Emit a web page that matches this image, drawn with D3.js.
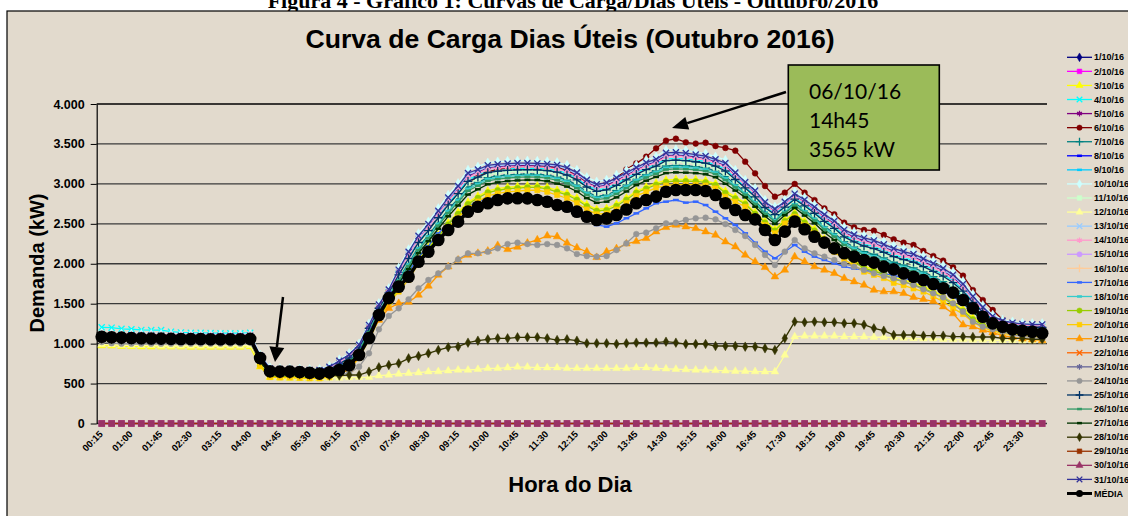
<!DOCTYPE html>
<html>
<head>
<meta charset="utf-8">
<script src="https://cdn.jsdelivr.net/npm/d3@7"></script>
<style>
  body { margin: 0; background: #fff; }
  svg { display: block; font-family: "Liberation Sans", Arial, sans-serif; }
</style>
</head>
<body>
<div id="chart"></div>
<script>
// Horários (categorias do eixo X), 96 intervalos de 15 minutos
const horas = ["00:15","00:30","00:45","01:00","01:15","01:30","01:45","02:00","02:15","02:30","02:45","03:00",
  "03:15","03:30","03:45","04:00","04:15","04:30","04:45","05:00","05:15","05:30","05:45","06:00",
  "06:15","06:30","06:45","07:00","07:15","07:30","07:45","08:00","08:15","08:30","08:45","09:00",
  "09:15","09:30","09:45","10:00","10:15","10:30","10:45","11:00","11:15","11:30","11:45","12:00",
  "12:15","12:30","12:45","13:00","13:15","13:30","13:45","14:00","14:15","14:30","14:45","15:00",
  "15:15","15:30","15:45","16:00","16:15","16:30","16:45","17:00","17:15","17:30","17:45","18:00",
  "18:15","18:30","18:45","19:00","19:15","19:30","19:45","20:00","20:15","20:30","20:45","21:00",
  "21:15","21:30","21:45","22:00","22:15","22:30","22:45","23:00","23:15","23:30","23:45","24:00"];

const rotulosX = ["00:15","01:00","01:45","02:30","03:15","04:00","04:45","05:30","06:15","07:00","07:45",
  "08:30","09:15","10:00","10:45","11:30","12:15","13:00","13:45","14:30","15:15","16:00","16:45","17:30",
  "18:15","19:00","19:45","20:30","21:15","22:00","22:45","23:30"];

const yTicks = [0, 500, 1000, 1500, 2000, 2500, 3000, 3500, 4000];

const legendaDias = ["1/10/16","2/10/16","3/10/16","4/10/16","5/10/16","6/10/16","7/10/16","8/10/16",
  "9/10/16","10/10/16","11/10/16","12/10/16","13/10/16","14/10/16","15/10/16","16/10/16","17/10/16",
  "18/10/16","19/10/16","20/10/16","21/10/16","22/10/16","23/10/16","24/10/16","25/10/16","26/10/16",
  "27/10/16","28/10/16","29/10/16","30/10/16","31/10/16","MÉDIA"];

// Demanda (kW) por dia
const zeros = [0,0,0,0,0,0,0,0,0,0,0,0, 0,0,0,0,0,0,0,0,0,0,0,0, 0,0,0,0,0,0,0,0,0,0,0,0, 0,0,0,0,0,0,0,0,0,0,0,0,
  0,0,0,0,0,0,0,0,0,0,0,0, 0,0,0,0,0,0,0,0,0,0,0,0, 0,0,0,0,0,0,0,0,0,0,0,0, 0,0,0,0,0,0,0,0,0,0,0,0];

const d03 = [975,972,968,965,962,960,960,960,960,958,958,958,958,958,958,962,
  710,580,572,570,568,565,565,575,620,700, 847,1080,1331,1529,1695,1857,2057,2207,2359,2512,
  2644,2771,2845,2912,2940,2958,2967,2976,2975,2957, 2922,2882,2822,2740,2681,2693,2745,2822,2908,2960,
  3009,3047,3056,3055,3052,3040,3003,2909,2837,2764, 2643,2532,2431,2550,2637,2533,2434,2310,2213,2112,
  2043,1969,1931,1889,1831,1799,1761,1718,1658,1593, 1511,1432,1323,1242,1190,1156,1135,1124,1115,1106];

const d04 = [1204,1200,1185,1180,1172,1170,1170,1150,1140,1135,1135,1132,1130,1130,1130,1135,
  825,670,661,660,656,651,650,685,755,830, 955,1200,1454,1645,1875,2085,2285,2433,2596,2758,
  2900,3056,3106,3161,3179,3189,3195,3198,3194,3185, 3168,3132,3071,2982,2926,2945,3003,3071,3140,3199,
  3243,3313,3320,3313,3298,3280,3241,3184,3075,2965, 2856,2720,2631,2725,2824,2743,2650,2550,2465,2358,
  2295,2245,2213,2165,2113,2075,2043,1988,1928,1866, 1786,1678,1533,1410,1310,1258,1234,1220,1214,1211];

const d05 = [1100,1098,1096,1094,1092,1091,1090,1089,1088,1087,1086,1086,1086,1086,1086,1090,
  840,682,673,672,668,663,662,699,773,850, 973,1220,1474,1664,1905,2123,2323,2470,2635,2799,
  2943,3103,3150,3203,3218,3227,3233,3235,3230,3223, 3209,3174,3112,3022,2967,2987,3046,3112,3178,3239,
  3282,3357,3364,3356,3339,3320,3281,3230,3114,2999, 2891,2751,2664,2754,2855,2778,2686,2590,2507,2399,
  2337,2291,2260,2211,2160,2121,2090,2033,1973,1912, 1831,1719,1568,1438,1330,1275,1250,1236,1230,1228];

const d06 = [1110,1105,1100,1100,1095,1095,1090,1090,1090,1085,1085,1085,1080,1080,1080,1080,
  830,680,670,670,665,660,660,700,795,857, 980,1200,1450,1660,1850,2050,2250,2420,2580,2730,
  2870,3000,3090,3150,3180,3200,3215,3220,3215,3210, 3200,3174,3082,3028,2986,3007,3070,3182,3257,3340,
  3445,3541,3565,3520,3505,3515,3474,3450,3416,3278, 3132,2973,2840,2890,2999,2890,2798,2694,2619,2514,
  2456,2423,2414,2360,2306,2264,2235,2160,2097,2039, 1955,1850,1671,1546,1421,1300,1260,1240,1220,1200];

const d07 = [1105,1102,1100,1098,1096,1095,1094,1093,1092,1091,1090,1090,1090,1090,1090,1094,
  800,646,638,640,633,628,626,657,719,790, 919,1160,1413,1606,1815,2009,2209,2357,2517,2676,
  2815,2961,3019,3078,3099,3112,3119,3124,3121,3109, 3086,3049,2988,2901,2844,2861,2917,2988,3062,3119,
  3165,3224,3232,3227,3216,3200,3162,3092,2995,2898, 2785,2657,2564,2667,2762,2673,2578,2470,2381,2276,
  2211,2153,2119,2073,2019,1983,1949,1898,1838,1775, 1694,1596,1463,1354,1270,1224,1201,1188,1181,1176];

const d10 = [1130,1128,1125,1123,1121,1120,1119,1118,1117,1116,1115,1115,1115,1115,1115,1120,
  860,700,690,688,685,680,680,720,800,880, 1000,1250,1505,1693,1950,2180,2380,2527,2694,2861,
  3007,3174,3215,3265,3278,3285,3290,3290,3285,3280, 3270,3236,3174,3082,3028,3050,3111,3174,3236,3299,
  3340,3424,3430,3420,3400,3380,3340,3299,3174,3049, 2944,2798,2714,2798,2902,2830,2740,2650,2570,2460,
  2400,2360,2330,2280,2230,2190,2160,2100,2040,1980, 1900,1780,1620,1480,1360,1300,1275,1260,1255,1254];

const d11 = [1115,1112,1110,1108,1106,1105,1104,1103,1102,1101,1100,1100,1100,1100,1100,1105,
  810,658,650,648,645,640,642,671,737,810, 937,1180,1433,1625,1845,2047,2247,2395,2556,2717,
  2858,3008,3063,3120,3139,3150,3157,3161,3157,3147, 3127,3090,3029,2941,2885,2903,2960,3029,3101,3159,
  3204,3269,3276,3270,3257,3240,3201,3138,3035,2932, 2820,2688,2597,2696,2793,2708,2614,2510,2423,2317,
  2253,2199,2166,2119,2066,2029,1996,1943,1883,1821, 1740,1637,1498,1382,1290,1241,1217,1204,1197,1193];

const d12 = [990,985,980,975,975,975,970,970,970,970,970,970,970,970,970,975,
  760,600,590,585,580,575,575,570,570,575, 578,578,599,607,620,628,636,649,650,661,
  670,670,678,690,690,699,707,707,699,699, 699,690,690,690,690,690,690,690,699,699,
  691,685,680,675,670,670,665,660,655,655, 650,649,649,857,1087,1095,1095,1095,1095,1087,
  1087,1087,1080,1080,1075,1070,1065,1060,1060,1055, 1050,1050,1045,1045,1040,1040,1040,1035,1035,1035];

const d13 = [1090,1088,1086,1084,1082,1081,1080,1079,1078,1077,1076,1076,1076,1076,1076,1080,
  845,686,676,678,671,666,668,703,778,856, 978,1226,1480,1670,1914,2134,2334,2482,2647,2812,
  2956,3117,3163,3215,3230,3239,3244,3246,3241,3234, 3221,3186,3124,3034,2979,3000,3059,3124,3190,3251,
  3293,3371,3377,3368,3351,3332,3292,3244,3126,3009, 2902,2760,2674,2763,2865,2788,2697,2602,2520,2411,
  2350,2305,2274,2225,2174,2135,2104,2046,1986,1925, 1845,1731,1578,1446,1336,1280,1255,1241,1235,1233];

const d14 = [1125,1122,1120,1118,1116,1115,1114,1113,1112,1111,1110,1110,1110,1110,1110,1115,
  830,676,667,668,662,657,656,692,764,840, 964,1210,1464,1654,1890,2104,2304,2452,2615,2779,
  2922,3079,3128,3182,3198,3208,3214,3216,3212,3204, 3188,3153,3091,3002,2946,2966,3025,3091,3159,3219,
  3262,3335,3342,3334,3318,3300,3261,3207,3095,2982, 2873,2735,2647,2740,2840,2760,2668,2570,2486,2378,
  2316,2268,2236,2188,2136,2098,2066,2010,1950,1889, 1808,1698,1550,1424,1320,1266,1242,1228,1222,1219];

const d17 = [1070,1065,1060,1060,1060,1055,1055,1055,1055,1050,1050,1050,1050,1050,1050,1055,
  810,650,645,640,640,630,620,640,680,760, 900,1130,1380,1600,1760,1900,2080,2220,2380,2500,
  2620,2720,2780,2820,2820,2820,2825,2820,2800,2760, 2694,2670,2652,2580,2485,2464,2506,2570,2631,2694,
  2757,2777,2798,2765,2777,2735,2652,2569,2485,2381, 2264,2151,2068,2151,2235,2151,2089,2047,2005,1964,
  1940,1920,1900,1880,1850,1820,1790,1750,1700,1650, 1590,1500,1400,1300,1240,1200,1170,1150,1140,1120];

const d18 = [1095,1093,1090,1088,1086,1085,1084,1083,1082,1081,1080,1080,1080,1080,1080,1085,
  790,640,632,633,628,622,623,650,710,780, 910,1150,1402,1597,1800,1990,2190,2339,2497,2656,
  2794,2937,2998,3058,3079,3093,3100,3105,3103,3090, 3065,3028,2967,2881,2824,2840,2896,2967,3043,3100,
  3145,3202,3210,3205,3195,3180,3142,3070,2976,2882, 2767,2642,2548,2652,2746,2655,2560,2450,2360,2255,
  2190,2130,2095,2050,1995,1960,1925,1875,1815,1753, 1671,1575,1445,1340,1260,1215,1193,1180,1173,1167];

const d19 = [1040,1038,1036,1035,1035,1034,1033,1032,1032,1031,1030,1030,1030,1030,1030,1035,
  730,592,586,587,582,576,578,594,638,700, 838,1070,1320,1519,1680,1838,2038,2188,2339,2491,
  2623,2747,2824,2892,2920,2939,2948,2957,2957,2938, 2901,2862,2801,2720,2661,2672,2723,2801,2889,2940,
  2989,3024,3034,3033,3031,3020,2984,2886,2817,2748, 2625,2516,2414,2535,2621,2515,2416,2290,2192,2091,
  2022,1946,1907,1866,1807,1776,1737,1695,1635,1571, 1488,1411,1305,1228,1180,1147,1127,1116,1107,1097];

const d20 = [1060,1058,1055,1052,1050,1050,1048,1048,1046,1046,1045,1045,1045,1045,1045,1050,
  720,580,575,575,570,565,565,580,620,680, 820,1050,1300,1500,1650,1800,2000,2150,2300,2450,
  2580,2700,2780,2850,2880,2900,2910,2920,2920,2900, 2860,2820,2760,2680,2620,2630,2680,2760,2850,2900,
  2950,2980,2990,2990,2990,2980,2944,2840,2777,2714, 2590,2485,2381,2506,2590,2480,2380,2250,2150,2050,
  1980,1900,1860,1820,1760,1730,1690,1650,1590,1525, 1442,1370,1270,1200,1160,1130,1110,1100,1090,1080];

const d21 = [1065,1062,1060,1058,1056,1055,1054,1053,1052,1051,1050,1050,1050,1050,1050,1055,
  800,625,620,620,615,612,610,620,640,680, 836,1087,1296,1442,1505,1520,1609,1722,1859,1963,
  2047,2110,2131,2160,2230,2180,2210,2260,2300,2350, 2340,2260,2200,2150,2080,2150,2190,2250,2280,2318,
  2402,2456,2485,2464,2443,2402,2360,2276,2214,2110, 2026,1955,1838,1922,2089,2026,1964,1922,1880,1818,
  1776,1734,1671,1651,1651,1630,1580,1555,1530,1463, 1376,1237,1212,1170,1137,1100,1080,1060,1050,1040];

const d24 = [1020,1005,1000,1000,1000,1000,1000,1000,1000,1000,1000,1000,1000,1000,1000,1010,
  780,620,615,615,610,605,600,600,610,630, 711,879,1179,1346,1442,1555,1693,1797,1880,1963,
  2056,2131,2131,2151,2193,2247,2264,2247,2235,2247, 2235,2193,2122,2097,2089,2097,2172,2256,2372,2389,
  2443,2506,2514,2548,2569,2577,2556,2497,2423,2347, 2235,2110,1984,2151,2297,2193,2131,2089,2047,1997,
  1964,1922,1880,1847,1818,1776,1734,1680,1630,1580, 1505,1400,1275,1212,1179,1150,1110,1090,1075,1060];

const d25 = [1080,1078,1076,1074,1072,1071,1070,1069,1068,1067,1066,1066,1066,1066,1066,1070,
  820,664,655,656,650,645,646,678,746,820, 946,1190,1443,1635,1860,2066,2266,2414,2576,2738,
  2879,3032,3085,3141,3159,3170,3176,3179,3176,3166, 3147,3111,3050,2961,2906,2924,2982,3050,3120,3179,
  3223,3291,3298,3291,3277,3260,3221,3161,3055,2949, 2838,2704,2614,2710,2808,2725,2632,2530,2444,2337,
  2274,2222,2189,2142,2089,2052,2019,1965,1905,1844, 1763,1657,1515,1396,1300,1249,1226,1212,1206,1202];

const d26 = [1075,1073,1071,1070,1068,1067,1066,1065,1064,1063,1063,1062,1062,1062,1062,1066,
  780,634,627,626,622,617,618,643,701,770, 901,1140,1392,1587,1785,1971,2171,2320,2477,2635,
  2772,2913,2976,3037,3059,3073,3081,3087,3084,3071, 3045,3007,2946,2861,2804,2819,2874,2946,3024,3080,
  3126,3180,3188,3184,3175,3160,3122,3047,2956,2865, 2749,2626,2531,2637,2730,2638,2542,2430,2339,2235,
  2169,2107,2072,2027,1972,1937,1902,1853,1793,1730, 1648,1555,1428,1326,1250,1207,1184,1172,1164,1158];

const d27 = [1085,1082,1080,1078,1076,1075,1074,1073,1072,1071,1070,1070,1070,1070,1070,1075,
  770,622,615,614,610,605,604,629,683,750, 883,1120,1372,1568,1755,1933,2133,2282,2438,2594,
  2729,2866,2932,2995,3019,3035,3043,3050,3048,3033, 3004,2966,2905,2821,2763,2777,2831,2905,2985,3040,
  3087,3135,3144,3141,3134,3120,3083,3001,2916,2831, 2714,2595,2498,2608,2699,2603,2506,2390,2297,2194,
  2127,2061,2025,1981,1925,1891,1855,1808,1748,1684, 1602,1514,1393,1298,1230,1190,1168,1156,1148,1141];

const d28 = [1060,1055,1050,1050,1050,1045,1045,1045,1045,1040,1040,1040,1040,1040,1040,1045,
  790,630,625,620,615,610,605,600,600,607, 607,649,704,732,753,816,845,879,920,954,
  962,1012,1037,1054,1066,1066,1079,1079,1079,1066, 1045,1054,1037,1004,1004,1004,996,1004,1012,1012,
  1012,1024,1012,995,995,995,970,970,970,962, 962,941,920,1066,1275,1267,1275,1267,1267,1254,
  1254,1237,1191,1162,1108,1108,1108,1100,1100,1100, 1087,1087,1083,1083,1083,1066,1066,1066,1054,1054];

const d31 = [1110,1108,1106,1104,1102,1101,1100,1099,1098,1097,1096,1096,1096,1096,1096,1100,
  850,690,681,682,676,671,670,709,786,864, 986,1234,1489,1678,1926,2150,2350,2497,2662,2828,
  2973,3136,3180,3232,3246,3254,3260,3260,3256,3250, 3237,3203,3141,3050,2995,3016,3077,3141,3205,3267,
  3309,3388,3395,3386,3367,3348,3308,3262,3142,3022, 2916,2773,2687,2775,2877,2802,2711,2618,2536,2427,
  2366,2323,2292,2243,2192,2153,2122,2064,2004,1944, 1863,1747,1592,1458,1344,1286,1262,1247,1242,1240];

const media = [1087,1080,1075,1070,1068,1065,1063,1060,1058,1058,1058,1055,1055,1055,1055,1060,
  820,655,650,650,645,635,625,640,670,730, 857,1070,1358,1570,1713,1838,2026,2151,2297,2422,
  2527,2652,2714,2757,2798,2819,2820,2819,2798,2777, 2735,2714,2652,2589,2547,2568,2610,2679,2757,2798,
  2840,2902,2923,2923,2923,2911,2861,2757,2673,2610, 2556,2423,2297,2402,2527,2431,2339,2264,2193,2131,
  2089,2047,2014,1964,1930,1880,1838,1797,1747,1693, 1638,1546,1442,1337,1254,1212,1179,1162,1149,1129];

// dias sem medição (fins de semana) ficam só na legenda
const dadosPorDia = {
  "2/10/16": zeros, "3/10/16": d03, "4/10/16": d04, "5/10/16": d05, "6/10/16": d06, "7/10/16": d07,
  "10/10/16": d10, "11/10/16": d11, "12/10/16": d12, "13/10/16": d13, "14/10/16": d14,
  "17/10/16": d17, "18/10/16": d18, "19/10/16": d19, "20/10/16": d20, "21/10/16": d21,
  "24/10/16": d24, "25/10/16": d25, "26/10/16": d26, "27/10/16": d27, "28/10/16": d28,
  "29/10/16": zeros, "31/10/16": d31, "MÉDIA": media
};

// cor e marcador de cada série (paleta padrão do Excel)
const estilos = {
  "1/10/16": ["#000080", "diamond"], "2/10/16": ["#ff00ff", "square"], "3/10/16": ["#ffff00", "triangle"],
  "4/10/16": ["#00ffff", "x"], "5/10/16": ["#800080", "star"], "6/10/16": ["#800000", "circle"],
  "7/10/16": ["#008080", "plus"], "8/10/16": ["#0000ff", "dash"], "9/10/16": ["#00ccff", "dash"],
  "10/10/16": ["#ccffff", "diamond"], "11/10/16": ["#ccffcc", "square"], "12/10/16": ["#ffff99", "triangle"],
  "13/10/16": ["#99ccff", "x"], "14/10/16": ["#ff99cc", "star"], "15/10/16": ["#cc99ff", "circle"],
  "16/10/16": ["#ffcc99", "plus"], "17/10/16": ["#3366ff", "dash"], "18/10/16": ["#33cccc", "dash"],
  "19/10/16": ["#99cc00", "circle"], "20/10/16": ["#ffcc00", "square"], "21/10/16": ["#ff9900", "triangle"],
  "22/10/16": ["#ff6600", "x"], "23/10/16": ["#666699", "star"], "24/10/16": ["#969696", "circle"],
  "25/10/16": ["#003366", "plus"], "26/10/16": ["#339966", "dash"], "27/10/16": ["#003300", "dash"],
  "28/10/16": ["#333300", "diamond"], "29/10/16": ["#993300", "square"], "30/10/16": ["#993366", "triangle"],
  "31/10/16": ["#333399", "x"], "MÉDIA": ["#000000", "circle"]
};

const W = 1128, H = 516;
const svg = d3.select("#chart").append("svg").attr("width", W).attr("height", H);

// legenda da figura (cortada no topo, como no original)
svg.append("text")
  .attr("x", 573).attr("y", 8)
  .attr("text-anchor", "middle")
  .style("font-family", "'Liberation Serif', 'Times New Roman', serif")
  .style("font-weight", "bold").style("font-size", "22px")
  .text("Figura 4 - Gráfico 1: Curvas de Carga/Dias Úteis - Outubro/2016");

// área do gráfico
svg.append("rect")
  .attr("x", 7).attr("y", 11).attr("width", 1300).attr("height", 700)
  .attr("fill", "#e2dacd").attr("stroke", "#000").attr("stroke-width", 1.2);

const plotLeft = 96.7, plotRight = 1047;
const x = d3.scalePoint().domain(horas).range([101.7, 1042.2]);
const y = d3.scaleLinear().domain([0, 4000]).range([423.5, 104]);

const fmt = d3.formatLocale({ decimal: ",", thousands: ".", grouping: [3], currency: ["R$", ""] }).format(",");

// linhas de grade
svg.append("g").selectAll("line")
  .data(yTicks)
  .join("line")
  .attr("x1", plotLeft).attr("x2", plotRight)
  .attr("y1", d => y(d)).attr("y2", d => y(d))
  .attr("stroke", d => d === 4000 ? "#000" : "#3a3a3a")
  .attr("stroke-width", 1.3);

// eixo Y
const yAxisG = svg.append("g")
  .attr("transform", `translate(${plotLeft},0)`)
  .call(d3.axisLeft(y).tickValues(yTicks).tickSize(6).tickSizeOuter(0).tickPadding(6).tickFormat(fmt));
yAxisG.select(".domain").attr("stroke", "#000").attr("stroke-width", 1.2);
yAxisG.selectAll(".tick line").attr("stroke", "#000");
yAxisG.selectAll("text")
  .style("font-size", "12.5px").style("font-weight", "bold")
  .style("font-family", "'Liberation Sans', Arial, sans-serif").attr("fill", "#000");

// eixo X (rótulos girados)
const xAxisG = svg.append("g")
  .attr("transform", `translate(0,${y(0)})`)
  .call(d3.axisBottom(x).tickValues(rotulosX).tickSize(0).tickSizeOuter(0));
xAxisG.select(".domain").remove();
xAxisG.selectAll("text")
  .attr("x", 0).attr("y", 0).attr("dy", "0.35em")
  .attr("text-anchor", "end")
  .attr("transform", "translate(-1,9) rotate(-45)")
  .style("font-size", "9.5px").style("font-weight", "bold")
  .style("font-family", "'Liberation Sans', Arial, sans-serif").attr("fill", "#000");

// títulos
svg.append("text")
  .attr("x", 570).attr("y", 48).attr("text-anchor", "middle")
  .style("font-size", "26.6px").style("font-weight", "bold")
  .text("Curva de Carga Dias Úteis (Outubro 2016)");

svg.append("text")
  .attr("transform", "translate(44,263) rotate(-90)")
  .attr("text-anchor", "middle")
  .style("font-size", "20px").style("font-weight", "bold")
  .text("Demanda (kW)");

svg.append("text")
  .attr("x", 570).attr("y", 492).attr("text-anchor", "middle")
  .style("font-size", "22px").style("font-weight", "bold")
  .text("Hora do Dia");

// marcadores
const simbolosTraco = {
  x: d3.symbolTimes || d3.symbolX || d3.symbolCross,
  star: d3.symbolAsterisk || d3.symbolCross,
  plus: d3.symbolPlus || d3.symbolCross
};
const simbolosCheios = {
  diamond: d3.symbolDiamond, square: d3.symbolSquare, triangle: d3.symbolTriangle, circle: d3.symbolCircle
};
function desenhaMarcador(sel, tipo, cor, tamanho) {
  if (tipo === "dash") {
    sel.append("path").attr("d", `M${-tamanho / 9},0H${tamanho / 9}`)
      .attr("stroke", cor).attr("stroke-width", 2.5).attr("fill", "none");
  } else if (simbolosTraco[tipo]) {
    sel.append("path").attr("d", d3.symbol(simbolosTraco[tipo], tamanho)())
      .attr("stroke", cor).attr("stroke-width", 1.3).attr("fill", "none");
  } else {
    sel.append("path").attr("d", d3.symbol(simbolosCheios[tipo], tamanho)())
      .attr("fill", cor).attr("stroke", cor).attr("stroke-width", 0.5);
  }
}

const linha = d3.line()
  .x((d, i) => x(horas[i]))
  .y(d => y(d));

const series = svg.append("g");
legendaDias.forEach(dia => {
  const dados = dadosPorDia[dia];
  if (!dados) return;
  const [cor, tipo] = estilos[dia];
  const ehMedia = dia === "MÉDIA";
  const g = series.append("g");
  g.append("path")
    .datum(dados)
    .attr("d", linha)
    .attr("fill", "none")
    .attr("stroke", cor)
    .attr("stroke-width", ehMedia ? 3.5 : 1.3);
  const pontos = g.selectAll("g.pt")
    .data(dados)
    .join("g")
    .attr("class", "pt")
    .attr("transform", (d, i) => `translate(${x(horas[i])},${y(d)})`);
  if (ehMedia) {
    pontos.append("circle").attr("r", 6.3).attr("fill", "#000");
  } else if (dia === "29/10/16") {
    pontos.append("path").attr("d", d3.symbol(d3.symbolSquare, 46)()).attr("fill", "#993366");
  } else {
    pontos.each(function () { desenhaMarcador(d3.select(this), tipo, cor, 26); });
  }
});

// legenda
const legenda = svg.append("g");
legendaDias.forEach((dia, k) => {
  const [cor, tipo] = estilos[dia];
  const ly = 57.3 + k * 14.07;
  const item = legenda.append("g").attr("transform", `translate(0,${ly})`);
  item.append("line").attr("x1", 1067).attr("x2", 1092).attr("y1", 0).attr("y2", 0)
    .attr("stroke", cor).attr("stroke-width", dia === "MÉDIA" ? 3 : 1.3);
  const m = item.append("g").attr("transform", "translate(1079.5,0)");
  if (dia === "MÉDIA") m.append("circle").attr("r", 3.5).attr("fill", "#000");
  else desenhaMarcador(m, tipo, cor, 22);
  item.append("text").attr("x", 1094).attr("y", 0).attr("dy", "0.35em")
    .style("font-size", "9px").style("font-weight", "bold").text(dia);
});

// anotação do pico
svg.append("rect")
  .attr("x", 788.3).attr("y", 65).attr("width", 151).attr("height", 105)
  .attr("fill", "#9bbb59").attr("stroke", "#000").attr("stroke-width", 1.6);
const anot = svg.append("text")
  .style("font-family", "Lato, 'Open Sans', sans-serif").style("font-size", "21px").attr("fill", "#000");
["06/10/16", "14h45", "3565 kW"].forEach((t, i) => {
  anot.append("tspan").attr("x", 809).attr("y", 99.3 + i * 28.7).text(t);
});

function seta(x1, y1, x2, y2, comp, larg) {
  const a = Math.atan2(y2 - y1, x2 - x1);
  const bx = x2 - comp * Math.cos(a), by = y2 - comp * Math.sin(a);
  svg.append("line").attr("x1", x1).attr("y1", y1).attr("x2", bx).attr("y2", by)
    .attr("stroke", "#000").attr("stroke-width", 2.5);
  const px = -Math.sin(a) * larg, py = Math.cos(a) * larg;
  svg.append("path")
    .attr("d", `M${x2},${y2}L${bx + px},${by + py}L${bx - px},${by - py}Z`)
    .attr("fill", "#000");
}
seta(786, 92, 672, 128, 16, 6.5);
seta(283, 297, 275, 362, 15, 7.5);
</script>
</body>
</html>
